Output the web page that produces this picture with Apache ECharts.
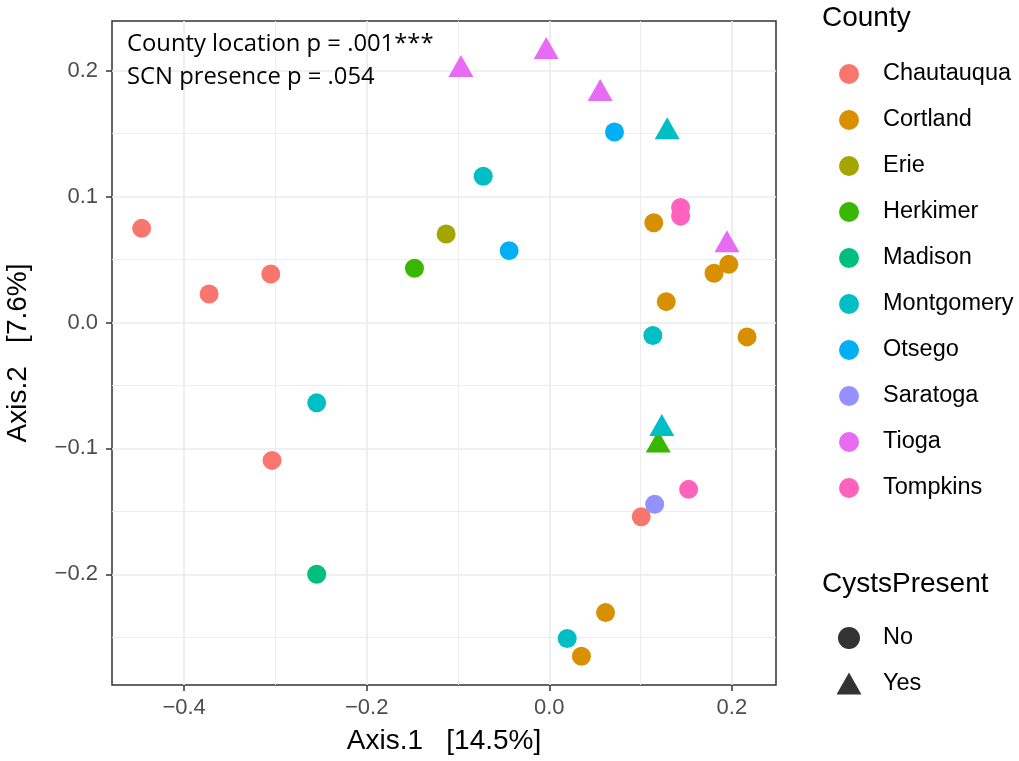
<!DOCTYPE html>
<html>
<head>
<meta charset="utf-8">
<script src="https://cdn.jsdelivr.net/npm/echarts@6/dist/echarts.min.js"></script>
<style>html,body{margin:0;padding:0;background:#fff}#c{width:1019px;height:761px}</style>
</head>
<body>
<div id="c"></div>
<script>
// ---- data ----
const counties = ['Chautauqua','Cortland','Erie','Herkimer','Madison','Montgomery','Otsego','Saratoga','Tioga','Tompkins'];
const cystLevels = ['No','Yes'];
const axis1 = [-0.0968,-0.0034,0.0557,0.0714,0.1291,-0.0724,0.1438,0.1438,0.1144,-0.4465,-0.1130,-0.0440,0.1946,-0.1477,-0.3051,0.1966,0.1804,-0.3726,0.1281,0.1134,0.2166,-0.2548,0.1232,0.1193,-0.3037,0.1526,0.1154,0.1007,-0.2548,0.0616,0.0196,0.0352];
const axis2 = [0.2038,0.2181,0.1847,0.1514,0.1544,0.1162,0.0914,0.0845,0.0793,0.0748,0.0703,0.0571,0.0646,0.0431,0.0386,0.0462,0.0391,0.0227,0.0166,-0.0103,-0.0114,-0.0638,-0.0813,-0.0944,-0.1095,-0.1325,-0.1444,-0.1542,-0.2000,-0.2304,-0.2510,-0.2651];
const county = ['Tioga','Tioga','Tioga','Otsego','Montgomery','Montgomery','Tompkins','Tompkins','Cortland','Chautauqua','Erie','Otsego','Tioga','Herkimer','Chautauqua','Cortland','Cortland','Chautauqua','Cortland','Montgomery','Cortland','Montgomery','Montgomery','Herkimer','Chautauqua','Tompkins','Saratoga','Chautauqua','Madison','Cortland','Montgomery','Cortland'];
const cysts = ['Yes','Yes','Yes','No','Yes','No','No','No','No','No','No','No','Yes','No','No','No','No','No','No','No','No','No','Yes','Yes','No','No','No','No','No','No','No','No'];
const xTicks = [-0.4,-0.2,0.0,0.2];
const xMinor = [-0.3,-0.1,0.1];
const yTicks = [-0.2,-0.1,0.0,0.1,0.2];
const yMinor = [-0.25,-0.15,-0.05,0.05,0.15];
const annotations = ['County location p = .001***','SCN presence p = .054'];

// ---- styles ----
const palette = ['#F8766D','#D89000','#A3A500','#39B600','#00BF7D','#00BFC4','#00B0F6','#9590FF','#E76BF3','#FF62BC'];
const FONT = '"Liberation Sans", Arial, sans-serif';
const fmt = v => (Math.abs(v) < 1e-9 ? 0 : v).toFixed(1).replace('-', '\u2212');

const series = [];
// grid lines
function gridSeries(xs, ys, width) {
  return {
    type: 'scatter', data: [], silent: true, z: 1,
    markLine: {
      silent: true, z: 1, symbol: ['none','none'], label: {show: false}, animation: false,
      lineStyle: {color: '#EBEBEB', width: width, type: 'solid'},
      emphasis: {disabled: true},
      data: xs.map(v => ({xAxis: v})).concat(ys.map(v => ({yAxis: v})))
    }
  };
}
series.push(gridSeries(xMinor, yMinor, 0.9));
series.push(gridSeries(xTicks, yTicks, 1.7));

counties.forEach((c, ci) => {
  const data = [];
  for (let i = 0; i < axis1.length; i++) {
    if (county[i] !== c) continue;
    const tri = cysts[i] === 'Yes';
    data.push({value: [axis1[i], axis2[i]], symbol: tri ? 'triangle' : 'circle', symbolSize: tri ? [25, 22] : 19});
  }
  series.push({type: 'scatter', name: c, data, z: 3, itemStyle: {color: palette[ci], opacity: 1}, emphasis: {disabled: true}});
});
cystLevels.forEach(l => series.push({type: 'scatter', name: l, data: [], itemStyle: {color: '#000'}, symbol: l === 'Yes' ? 'triangle' : 'circle'}));

const option = {
  animation: false,
  backgroundColor: '#fff',
  textStyle: {fontFamily: FONT},
  grid: {left: 112, top: 21, right: 243, bottom: 76, show: true, borderColor: '#333', borderWidth: 1.5, backgroundColor: '#fff', containLabel: false, outerBoundsMode: 'none'},
  xAxis: {
    type: 'value', min: -0.479, max: 0.2483,
    name: 'Axis.1   [14.5%]', nameLocation: 'middle', nameGap: 42,
    nameTextStyle: {fontSize: 28, color: '#000', fontFamily: FONT},
    axisLine: {show: false, onZero: false},
    axisTick: {show: true, customValues: xTicks, length: 6, lineStyle: {color: '#333', width: 1.5}},
    axisLabel: {customValues: xTicks, formatter: fmt, fontSize: 22, color: '#4D4D4D', margin: 12, fontFamily: FONT},
    splitLine: {show: false}
  },
  yAxis: {
    type: 'value', min: -0.2879, max: 0.2395,
    name: 'Axis.2   [7.6%]', nameLocation: 'middle', nameGap: 80, nameRotate: 90,
    nameTextStyle: {fontSize: 28, color: '#000', fontFamily: FONT},
    axisLine: {show: false, onZero: false},
    axisTick: {show: true, customValues: yTicks, length: 6, lineStyle: {color: '#333', width: 1.5}},
    axisLabel: {customValues: yTicks, formatter: fmt, fontSize: 22, color: '#4D4D4D', margin: 14, fontFamily: FONT},
    splitLine: {show: false}
  },
  legend: [
    {
      data: counties.map(n => ({name: n, icon: 'circle'})),
      orient: 'vertical', left: 834, top: 57, itemWidth: 20, itemHeight: 20, itemGap: 22,
      selectedMode: false,
      textStyle: {fontSize: 23.5, color: '#000', fontFamily: FONT, padding: [0, 0, 0, 19]}
    },
    {
      data: cystLevels.map(n => ({name: n, icon: n === 'Yes' ? 'triangle' : 'circle'})),
      orient: 'vertical', left: 831.5, top: 621, itemWidth: 25, itemHeight: 22, itemGap: 21.5,
      selectedMode: false,
      textStyle: {fontSize: 23.5, color: '#000', fontFamily: FONT, padding: [0, 0, 0, 16.5]}
    }
  ],
  graphic: [
    {type: 'text', left: 822, top: 4, style: {text: 'County', font: '28px ' + FONT, fill: '#000'}},
    {type: 'text', left: 822, top: 570, style: {text: 'CystsPresent', font: '28px ' + FONT, fill: '#000'}},
    {type: 'text', left: 127, top: 32, z: 10, style: {text: annotations[0], font: '23.8px "Open Sans", sans-serif', fill: '#000'}},
    {type: 'text', left: 127, top: 65, z: 10, style: {text: annotations[1], font: '23.8px "Open Sans", sans-serif', fill: '#000'}}
  ],
  series
};
const chart = echarts.init(document.getElementById('c'), null, {renderer: 'canvas'});
chart.setOption(option);
</script>
</body>
</html>
